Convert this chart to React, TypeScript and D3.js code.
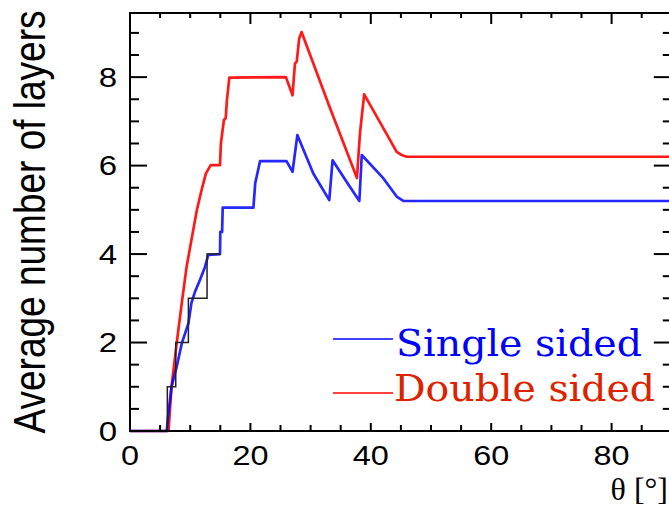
import React from 'react';
import * as d3 from 'd3';

// single sided (blue)
const singleTheta = [0, 6.1, 6.3, 6.9, 7.75, 8.6, 9.7, 10.2, 10.8, 11.6, 12.46, 13.0, 14.95, 15.0, 15.3, 15.4, 15.6, 20.5, 20.8, 21.6, 26.0, 27.0, 27.8, 30.45, 33.1, 33.65, 36.0, 38.1, 38.5, 42.1, 44.3, 45.4, 90];
const singleLayers = [0, 0, 0.3, 1.0, 1.45, 1.98, 2.43, 2.89, 3.15, 3.41, 3.71, 3.98, 4.0, 4.5, 4.5, 5.05, 5.05, 5.05, 5.6, 6.1, 6.1, 5.86, 6.69, 5.82, 5.22, 6.12, 5.63, 5.2, 6.24, 5.71, 5.3, 5.2, 5.2];

// double sided (red)
const doubleTheta = [0, 6.4, 6.9, 7.75, 8.6, 9.4, 10.25, 11.1, 11.9, 12.6, 13.4, 14.95, 15.1, 15.6, 15.9, 16.1, 16.5, 25.9, 27.0, 27.4, 27.7, 28.1, 28.5, 33.0, 37.7, 38.2, 38.9, 42.1, 44.3, 45.1, 46.0, 90];
const doubleLayers = [0, 0, 1.0, 1.98, 2.89, 3.71, 4.35, 4.99, 5.45, 5.82, 6.01, 6.01, 6.5, 7.03, 7.07, 7.48, 7.99, 8.0, 7.59, 8.31, 8.35, 8.87, 9.02, 7.38, 5.72, 6.73, 7.61, 6.84, 6.31, 6.24, 6.2, 6.2];

// integer layer staircase (black)
const stepTheta = [6.2, 6.2, 7.6, 7.6, 9.7, 9.7, 12.8, 12.8, 14.95];
const stepLayers = [0, 1, 1, 2, 2, 3, 3, 4, 4];

const xTickLabels = [0, 20, 40, 60, 80];
const yTickLabels = [0, 2, 4, 6, 8];
const legendNames = ['Single sided', 'Double sided'];

const W = 669;
const H = 507;

export default function App() {
  const x = d3.scaleLinear().domain([0, 90]).range([130, 671.8]);
  const y = d3.scaleLinear().domain([0, 9.45]).range([431, 13]);

  const line = (xs: number[], ys: number[]) =>
    d3.line<number>()
      .x((d) => x(d))
      .y((_, i) => y(ys[i]))(xs) || '';

  const xMinor = d3.range(0, 91, 5);
  const yMinor = d3.range(0, 9.01, 0.5);
  const [x0, x1] = x.range();
  const [y0, y1] = y.range();
  const sans = 'Liberation Sans, Arial, sans-serif';

  return (
    <svg width={W} height={H} style={{ position: 'absolute', left: 0, top: 0, background: '#fff' }}>
      <rect width={W} height={H} fill="#fff" />

      {/* lines */}
      <path d={line(doubleTheta, doubleLayers)} fill="none" stroke="#ff0000" strokeWidth={2.7} strokeOpacity={0.9} strokeLinejoin="round" />
      <path d={line(singleTheta, singleLayers)} fill="none" stroke="#0000ff" strokeWidth={2.7} strokeOpacity={0.85} strokeLinejoin="round" />
      <path d={line(stepTheta, stepLayers)} fill="none" stroke="#222" strokeWidth={1.5} />

      {/* frame */}
      <rect x={x0} y={y1} width={x1 - x0} height={y0 - y1} fill="none" stroke="#000" strokeWidth={2} />

      {xMinor.map((t) => {
        const major = t % 20 === 0;
        return (
          <g key={'xt' + t}>
            <line x1={x(t)} x2={x(t)} y1={y0} y2={y0 - (major ? 8 : 6)} stroke="#000" strokeWidth={2} />
            <line x1={x(t)} x2={x(t)} y1={y1} y2={y1 + (major ? 11 : 5)} stroke="#000" strokeWidth={2} />
          </g>
        );
      })}
      {yMinor.map((t) => {
        const major = t % 2 === 0;
        return (
          <g key={'yt' + t}>
            <line x1={x0} x2={x0 + (major ? 17 : 9)} y1={y(t)} y2={y(t)} stroke="#000" strokeWidth={2} />
            <line x1={x1} x2={x1 - (major ? 18 : 9)} y1={y(t)} y2={y(t)} stroke="#000" strokeWidth={2} />
          </g>
        );
      })}

      {xTickLabels.map((t) => (
        <text key={'xl' + t} transform={`translate(${x(t)},465) scale(1.2,1)`} textAnchor="middle"
          fontFamily={sans} fontSize={27} fill="#000">{t}</text>
      ))}
      {yTickLabels.map((t) => (
        <text key={'yl' + t} transform={`translate(117,${y(t) + 9.5}) scale(1.2,1)`} textAnchor="end"
          fontFamily={sans} fontSize={27.5} fill="#000">{t}</text>
      ))}

      <text transform="translate(45,222) scale(1.2,1) rotate(-90)" textAnchor="middle"
        fontFamily={sans} fontSize={37} fill="#000">Average number of layers</text>

      <text x={668} y={500} textAnchor="end" fontFamily="Liberation Serif, Times New Roman, serif" fontSize={32} fill="#000">θ [°]</text>

      {/* legend */}
      <line x1={333} x2={393} y1={339} y2={339} stroke="#0000ff" strokeWidth={1.5} />
      <text x={396} y={356} fontFamily="DejaVu Serif, serif" fontSize={37} fill="#0000ff"
        textLength={246} lengthAdjust="spacingAndGlyphs">{legendNames[0]}</text>
      <line x1={333} x2={393} y1={393} y2={393} stroke="#ff0000" strokeWidth={1.5} />
      <text x={394} y={401} fontFamily="DejaVu Serif, serif" fontSize={37} fill="#dd2200"
        textLength={261} lengthAdjust="spacingAndGlyphs">{legendNames[1]}</text>
    </svg>
  );
}
